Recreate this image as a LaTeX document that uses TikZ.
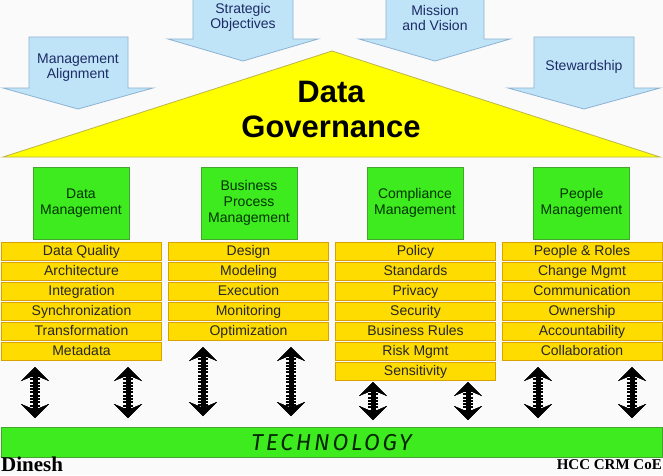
\documentclass[tikz,border=0pt]{standalone}
\usepackage{fontspec}
\setmainfont{Liberation Sans}
\newfontfamily\signfont{Liberation Serif}
\newfontfamily\techfont[LetterSpace=12]{Fira Sans}
\usetikzlibrary{arrows.meta}

\definecolor{paper}{HTML}{FAFAFA}
\definecolor{skyblue}{HTML}{BFE4F8}
\definecolor{skyline}{HTML}{8DB2D2}
\definecolor{navytext}{HTML}{1C2B66}
\definecolor{leafgreen}{HTML}{3DEB1E}
\definecolor{leafline}{HTML}{43A52E}
\definecolor{gold}{HTML}{FFDC00}
\definecolor{goldline}{HTML}{D8A200}
\definecolor{lemon}{HTML}{FFFF00}

\begin{document}
\begin{tikzpicture}[x=1pt, y=-1pt,
	blockarrow/.style={fill=skyblue, draw=skyline, line width=0.8pt},
	arrowtext/.style={align=center, text=navytext, font=\fontsize{14}{15.5}\selectfont},
	roof/.style={fill=lemon, draw=olive!60, line width=0.8pt},
	pillar/.style={fill=leafgreen, draw=leafline, line width=0.8pt, minimum width=96pt, minimum height=72pt, align=center, text=green!20!black, font=\fontsize{14}{16}\selectfont},
	task/.style={fill=gold, draw=goldline, line width=0.7pt, minimum width=160pt, minimum height=17.5pt, inner sep=0pt, text height=10pt, text depth=3pt, text=black!85, font=\fontsize{14}{16}\selectfont},
	updown/.style={line width=10pt, dash pattern=on 2pt off 1.3pt,
		{Stealth[length=14pt, width=28pt, inset=6pt, line width=0.1pt]}-{Stealth[length=14pt, width=28pt, inset=6pt, line width=0.1pt]},
		preaction={draw, line width=5pt, solid}}]

	\path[use as bounding box, fill=paper] (0,0) rectangle (663,475);

	% arrows from above
	\draw[blockarrow] (29,37) -- (128,37) -- (128,88) -- (153,88) -- (78,109) -- (3,88) -- (29,88) -- cycle;
	\draw[blockarrow] (193,-2) -- (293,-2) -- (293,39) -- (318,39) -- (243,61) -- (168,39) -- (193,39) -- cycle;
	\draw[blockarrow] (386,-2) -- (484,-2) -- (484,39) -- (510,39) -- (435,61) -- (359,39) -- (386,39) -- cycle;
	\draw[blockarrow] (534,37) -- (634,37) -- (634,88) -- (660,88) -- (584,109) -- (508,88) -- (534,88) -- cycle;
	\node[arrowtext] (align) at (78,67.5) {Management\\Alignment};
	\node[arrowtext] (strat) at (243,17.5) {Strategic\\Objectives};
	\node[arrowtext] (mission) at (435,18) {Mission\\and Vision};
	\node[arrowtext] (steward) at (584,67) {Stewardship};

	\draw[roof] (3,157) -- (332,51) -- (660,157) -- cycle;
	\node[align=center, font=\fontsize{31}{35}\selectfont\bfseries] (gov) at (331,109) {Data\\Governance};

	\node[pillar] (datamgmt) at (81,203) {Data\\Management};
	\node[pillar] (bpm) at (249,203) {Business\\Process\\Management};
	\node[pillar] (compl) at (415,203) {Compliance\\Management};
	\node[pillar] (people) at (581.5,203) {People\\Management};

	\node[task] (quality) at (81.5,251.5) {Data Quality};
	\node[task] (archi) at (81.5,271.5) {Architecture};
	\node[task] (integ) at (81.5,291.5) {Integration};
	\node[task] (sync) at (81.5,311.5) {Synchronization};
	\node[task] (transf) at (81.5,331.5) {Transformation};
	\node[task] (meta) at (81.5,351.5) {Metadata};

	\node[task] (design) at (248.5,251.5) {Design};
	\node[task] (model) at (248.5,271.5) {Modeling};
	\node[task] (exec) at (248.5,291.5) {Execution};
	\node[task] (monit) at (248.5,311.5) {Monitoring};
	\node[task] (optim) at (248.5,331.5) {Optimization};

	\node[task] (policy) at (415.5,251.5) {Policy};
	\node[task] (standards) at (415.5,271.5) {Standards};
	\node[task] (privacy) at (415.5,291.5) {Privacy};
	\node[task] (security) at (415.5,311.5) {Security};
	\node[task] (rules) at (415.5,331.5) {Business Rules};
	\node[task] (risk) at (415.5,351.5) {Risk Mgmt};
	\node[task] (sensit) at (415.5,371.5) {Sensitivity};

	\node[task] (roles) at (582,251.5) {People \& Roles};
	\node[task] (change) at (582,271.5) {Change Mgmt};
	\node[task] (comm) at (582,291.5) {Communication};
	\node[task] (owner) at (582,311.5) {Ownership};
	\node[task] (account) at (582,331.5) {Accountability};
	\node[task] (collab) at (582,351.5) {Collaboration};

	\node[fill=leafgreen, draw=leafline, line width=0.8pt, minimum width=661pt, minimum height=30pt, inner sep=0pt,
		text=green!15!black, font=\techfont\itshape\fontsize{23}{25}\selectfont] (tech) at (331.5,442.5) {TECHNOLOGY};

	% links down to technology
	\coordinate (up1) at (35,367);    \coordinate (dn1) at (35,418);
	\coordinate (up2) at (128,367);   \coordinate (dn2) at (128,418);
	\coordinate (up3) at (203,347);   \coordinate (dn3) at (203,416);
	\coordinate (up4) at (291,347);   \coordinate (dn4) at (291,416);
	\coordinate (up5) at (373,382);   \coordinate (dn5) at (373,420);
	\coordinate (up6) at (468,382);   \coordinate (dn6) at (468,420);
	\coordinate (up7) at (538,367);   \coordinate (dn7) at (538,418);
	\coordinate (up8) at (632,367);   \coordinate (dn8) at (632,418);
	\draw[updown] (up1) -- (dn1);
	\draw[updown] (up2) -- (dn2);
	\draw[updown] (up3) -- (dn3);
	\draw[updown] (up4) -- (dn4);
	\draw[updown] (up5) -- (dn5);
	\draw[updown] (up6) -- (dn6);
	\draw[updown] (up7) -- (dn7);
	\draw[updown] (up8) -- (dn8);

	\node[anchor=base west, inner sep=0pt, font=\signfont\bfseries\fontsize{21}{23}\selectfont] (author) at (1,471) {Dinesh};
	\node[anchor=base east, inner sep=0pt, font=\signfont\bfseries\fontsize{15}{17}\selectfont] (coe) at (662,469) {HCC CRM CoE};
\end{tikzpicture}
\end{document}
